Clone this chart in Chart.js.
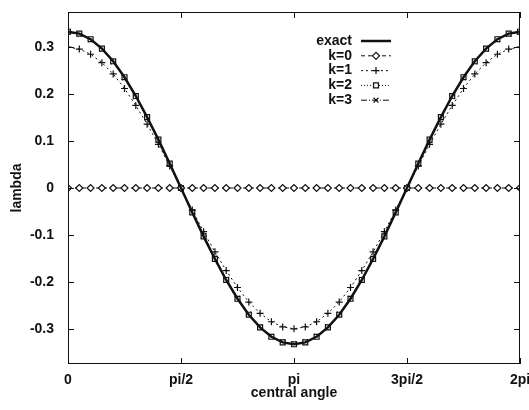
<!DOCTYPE html>
<html>
<head>
<meta charset="utf-8">
<script src="https://cdn.jsdelivr.net/npm/chart.js@4.4.1/dist/chart.umd.min.js"></script>
<style>
html, body { margin: 0; padding: 0; background: #fff; }
#wrap { width: 529px; height: 410px; }
</style>
</head>
<body>
<div id="wrap"><canvas id="chart" width="529" height="410"></canvas></div>
<script>
// central angle in degrees (plotted as 0 .. 2pi)
const angles = [0, 9, 18, 27, 36, 45, 54, 63, 72, 81, 90, 99, 108, 117, 126, 135, 144, 153, 162, 171, 180,
    189, 198, 207, 216, 225, 234, 243, 252, 261, 270, 279, 288, 297, 306, 315, 324, 333, 342, 351, 360];
const exact = [0.333, 0.329, 0.317, 0.297, 0.270, 0.236, 0.196, 0.151, 0.103, 0.052, 0, -0.052, -0.103, -0.151, -0.196, -0.236, -0.270, -0.297, -0.317, -0.329, -0.333,
    -0.329, -0.317, -0.297, -0.270, -0.236, -0.196, -0.151, -0.103, -0.052, 0, 0.052, 0.103, 0.151, 0.196, 0.236, 0.270, 0.297, 0.317, 0.329, 0.333];
const k0 = [0, 0, 0, 0, 0, 0, 0, 0, 0, 0, 0, 0, 0, 0, 0, 0, 0, 0, 0, 0, 0,
    0, 0, 0, 0, 0, 0, 0, 0, 0, 0, 0, 0, 0, 0, 0, 0, 0, 0, 0, 0];
const k1 = [0.300, 0.296, 0.285, 0.267, 0.243, 0.212, 0.176, 0.136, 0.093, 0.047, 0, -0.047, -0.093, -0.136, -0.176, -0.212, -0.243, -0.267, -0.285, -0.296, -0.300,
    -0.296, -0.285, -0.267, -0.243, -0.212, -0.176, -0.136, -0.093, -0.047, 0, 0.047, 0.093, 0.136, 0.176, 0.212, 0.243, 0.267, 0.285, 0.296, 0.300];
const k2 = [0.333, 0.329, 0.317, 0.297, 0.270, 0.236, 0.196, 0.151, 0.103, 0.052, 0, -0.052, -0.103, -0.151, -0.196, -0.236, -0.270, -0.297, -0.317, -0.329, -0.333,
    -0.329, -0.317, -0.297, -0.270, -0.236, -0.196, -0.151, -0.103, -0.052, 0, 0.052, 0.103, 0.151, 0.196, 0.236, 0.270, 0.297, 0.317, 0.329, 0.333];
const k3 = [0.332, 0.328, 0.316, 0.296, 0.269, 0.235, 0.195, 0.150, 0.102, 0.051, 0, -0.051, -0.102, -0.150, -0.195, -0.235, -0.269, -0.296, -0.316, -0.328, -0.332,
    -0.328, -0.316, -0.296, -0.269, -0.235, -0.195, -0.150, -0.102, -0.051, 0, 0.051, 0.102, 0.150, 0.195, 0.235, 0.269, 0.296, 0.316, 0.328, 0.332];
const xTickValues = [0, 90, 180, 270, 360];
const xTickLabels = ['0', 'pi/2', 'pi', '3pi/2', '2pi'];
const yTickValues = [-0.3, -0.2, -0.1, 0, 0.1, 0.2, 0.3];
const yTickLabels = ['-0.3', '-0.2', '-0.1', '0', '0.1', '0.2', '0.3'];
const seriesNames = ['exact', 'k=0', 'k=1', 'k=2', 'k=3'];

const INK = '#111';
const FONT = { family: 'Liberation Sans, Arial, sans-serif', size: 14, weight: 'bold' };

function series(label, data, dash, width, pointStyle) {
    return {
        label: label,
        data: data,
        borderColor: INK,
        borderWidth: width,
        borderDash: dash,
        pointStyle: pointStyle || false,
        pointRadius: pointStyle ? 3.5 : 0,
        pointBackgroundColor: '#fff',
        pointBorderColor: INK,
        pointBorderWidth: 1.2,
        tension: 0,
        fill: false
    };
}

// box, inward + mirrored ticks, gnuplot-like key
const framePlugin = {
    id: 'frame',
    afterDraw(chart) {
        const { ctx, chartArea: a, scales: { x, y } } = chart;
        ctx.save();
        ctx.strokeStyle = INK;
        ctx.lineWidth = 1;
        ctx.strokeRect(a.left + 0.5, a.top + 0.5, a.right - a.left - 1, a.bottom - a.top - 1);
        ctx.beginPath();
        xTickValues.forEach(v => {
            const px = Math.round(x.getPixelForValue(v)) + 0.5;
            ctx.moveTo(px, a.bottom); ctx.lineTo(px, a.bottom - 6);
            ctx.moveTo(px, a.top); ctx.lineTo(px, a.top + 6);
        });
        yTickValues.forEach(v => {
            const py = Math.round(y.getPixelForValue(v)) + 0.5;
            ctx.moveTo(a.left, py); ctx.lineTo(a.left + 6, py);
            ctx.moveTo(a.right, py); ctx.lineTo(a.right - 6, py);
        });
        ctx.stroke();

        // key
        ctx.font = 'bold 14px ' + FONT.family;
        ctx.fillStyle = INK;
        ctx.textAlign = 'right';
        ctx.textBaseline = 'middle';
        chart.data.datasets.forEach((ds, i) => {
            const ly = 41 + i * 14.8;
            ctx.fillText(seriesNames[i], 352, ly);
            ctx.beginPath();
            ctx.setLineDash(ds.borderDash);
            ctx.lineWidth = ds.borderWidth;
            ctx.moveTo(361, ly); ctx.lineTo(391, ly);
            ctx.stroke();
            ctx.setLineDash([]);
            if (ds.pointStyle) {
                ctx.lineWidth = 1.2;
                ctx.fillStyle = '#fff';
                Chart.helpers.drawPoint(ctx, { pointStyle: ds.pointStyle, radius: 3.5, borderWidth: 1.2, rotation: 0 }, 376, ly);
                ctx.fillStyle = INK;
            }
        });
        ctx.restore();
    }
};

new Chart(document.getElementById('chart'), {
    type: 'line',
    data: {
        labels: angles,
        datasets: [
            series(seriesNames[0], exact, [], 2.5, null),
            series(seriesNames[1], k0, [4, 3], 1, 'rectRot'),
            series(seriesNames[2], k1, [2, 3], 1, 'cross'),
            series(seriesNames[3], k2, [1, 2], 1, 'rect'),
            series(seriesNames[4], k3, [6, 2, 1, 2], 1, 'crossRot')
        ]
    },
    options: {
        responsive: false,
        animation: false,
        devicePixelRatio: 1,
        layout: { padding: { top: 12, right: 9, left: 0, bottom: 0 } },
        plugins: { legend: { display: false }, tooltip: { enabled: false } },
        scales: {
            x: {
                type: 'linear',
                min: 0,
                max: 360,
                afterBuildTicks: s => { s.ticks = xTickValues.map(v => ({ value: v })); },
                afterFit: s => { s.height = 46; s.paddingLeft = 0; s.paddingRight = 0; },
                grid: { display: false, drawTicks: false },
                border: { display: false },
                ticks: {
                    color: INK,
                    font: FONT,
                    padding: 8,
                    maxRotation: 0,
                    callback: (v, i) => xTickLabels[i]
                },
                title: { display: true, text: 'central angle', color: INK, font: FONT, padding: { top: 0, bottom: 8 } }
            },
            y: {
                min: -0.375,
                max: 0.375,
                afterBuildTicks: s => { s.ticks = yTickValues.map(v => ({ value: v })); },
                afterFit: s => { s.width = 68; s.paddingTop = 0; s.paddingBottom = 0; },
                grid: { display: false, drawTicks: false },
                border: { display: false },
                ticks: {
                    color: INK,
                    font: FONT,
                    padding: 14,
                    callback: (v, i) => yTickLabels[i]
                },
                title: { display: true, text: 'lambda', color: INK, font: FONT, padding: { top: 9, bottom: 0 } }
            }
        }
    },
    plugins: [framePlugin]
});
</script>
</body>
</html>
